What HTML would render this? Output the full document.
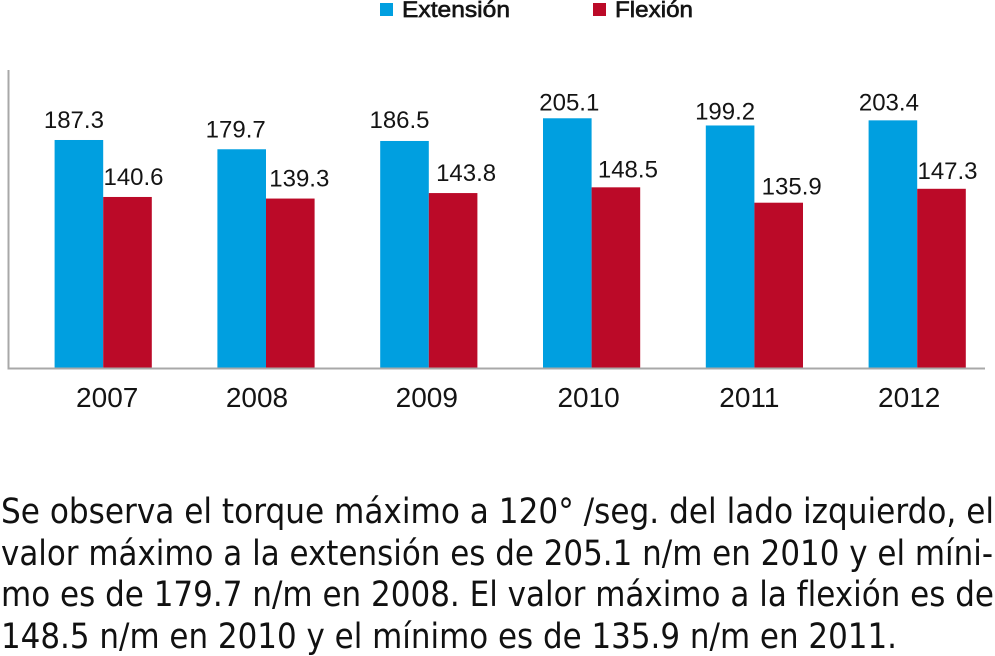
<!DOCTYPE html>
<html lang="es">
<head>
<meta charset="utf-8">
<title>Torque máximo a 120°/seg.</title>
<style>
html,body{margin:0;padding:0;background:#fff;width:995px;height:656px;overflow:hidden}
svg{display:block}
.val{font-family:"Liberation Sans",sans-serif;font-size:24px;fill:#141414;text-anchor:middle}
.year{font-family:"Liberation Sans",sans-serif;font-size:28px;fill:#141414;text-anchor:middle}
.leg{font-family:"Liberation Sans",sans-serif;font-size:22.5px;fill:#141414;stroke:#141414;stroke-width:.65px}
.body{font-family:"DejaVu Sans",sans-serif;font-size:35px;fill:#111}
</style>
</head>
<body>
<svg id="chart" width="995" height="656" viewBox="0 0 995 656" xmlns="http://www.w3.org/2000/svg">
  <g>
    <rect x="380" y="3" width="13" height="13" fill="#009fe0"/>
    <text class="leg" x="402" y="17" textLength="108" lengthAdjust="spacingAndGlyphs">Extensión</text>
    <rect x="593" y="3" width="13" height="13" fill="#bb0a28"/>
    <text class="leg" x="615" y="17" textLength="78" lengthAdjust="spacingAndGlyphs">Flexión</text>
  </g>
  <g id="marks"></g>
  <line x1="8.5" y1="70" x2="8.5" y2="369" stroke="#a8a8a8" stroke-width="2"/>
  <line x1="7.5" y1="368.5" x2="985" y2="368.5" stroke="#a8a8a8" stroke-width="2"/>
  <g id="ticks"></g>
  <g>
    <text class="body" x="1" y="523" textLength="993" lengthAdjust="spacingAndGlyphs">Se observa el torque máximo a 120° /seg. del lado izquierdo, el</text>
    <text class="body" x="1" y="565" textLength="992" lengthAdjust="spacingAndGlyphs">valor máximo a la extensión es de 205.1 n/m en 2010 y el míni-</text>
    <text class="body" x="1" y="606" textLength="993" lengthAdjust="spacingAndGlyphs">mo es de 179.7 n/m en 2008. El valor máximo a la flexión es de</text>
    <text class="body" x="1" y="648" textLength="896" lengthAdjust="spacingAndGlyphs">148.5 n/m en 2010 y el mínimo es de 135.9 n/m en 2011.</text>
  </g>
</svg>
<script>
const categories = ['2007', '2008', '2009', '2010', '2011', '2012'];
const extension = [187.3, 179.7, 186.5, 205.1, 199.2, 203.4];
const flexion = [140.6, 139.3, 143.8, 148.5, 135.9, 147.3];

const extensionValueLabels = ['187.3', '179.7', '186.5', '205.1', '199.2', '203.4'];
const flexionValueLabels = ['140.6', '139.3', '143.8', '148.5', '135.9', '147.3'];

/* Hand-placement offsets of the labels in the source figure, applied relative to the marks. */
const extensionNudgeX = [-5, -6, -5, 2, -5, -4];
const extensionGap = [12, 12, 13, 8, 6, 10];
const flexionNudgeX = [6, 9, 13, 12, 13, 6];
const flexionGap = [12, 12, 12, 10, 8, 10];
const yearNudgeX = [4, -9, -2, -3, -5, -8];

const NS = 'http://www.w3.org/2000/svg';
const baseY = 368.5;
const unitPx = 1.22;
const firstCenter = 103.2;
const stepPx = 162.8;
const barW = 48.6;
const yScale = v => baseY - v * unitPx;
const xScale = i => firstCenter + i * stepPx;
const marks = document.getElementById('marks');
const ticks = document.getElementById('ticks');

function bar(x, v, fill) {
  const r = document.createElementNS(NS, 'rect');
  r.setAttribute('x', x);
  r.setAttribute('y', yScale(v));
  r.setAttribute('width', barW);
  r.setAttribute('height', baseY - yScale(v));
  r.setAttribute('fill', fill);
  return r;
}
function label(cx, y, str, cls) {
  const t = document.createElementNS(NS, 'text');
  t.setAttribute('x', cx);
  t.setAttribute('y', y);
  t.setAttribute('class', cls);
  t.textContent = str;
  return t;
}

categories.forEach((cat, i) => {
  const c = xScale(i);

  const b1 = bar(c - barW, extension[i], '#009fe0');
  
  
  marks.appendChild(b1);

  const b2 = bar(c, flexion[i], '#bb0a28');
  
  
  marks.appendChild(b2);

  const l1 = label(c - barW / 2 + extensionNudgeX[i], yScale(extension[i]) - extensionGap[i], extensionValueLabels[i], 'val');
  
  
  marks.appendChild(l1);

  const l2 = label(c + barW / 2 + flexionNudgeX[i], yScale(flexion[i]) - flexionGap[i], flexionValueLabels[i], 'val');
  
  
  marks.appendChild(l2);

  const y = label(c + yearNudgeX[i], 407, cat, 'year');
  
  
  ticks.appendChild(y);
});
</script>
</body>
</html>
